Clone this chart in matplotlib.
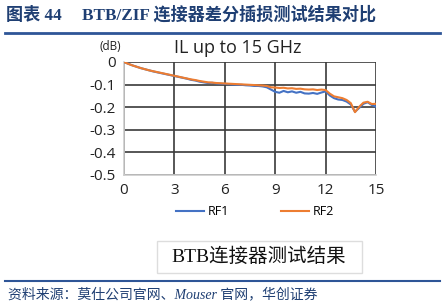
import matplotlib
matplotlib.use("Agg")
import matplotlib.pyplot as plt
from matplotlib.patches import Rectangle
from matplotlib.lines import Line2D

freq = [0, 0.25, 0.5, 0.75, 1, 1.25, 1.5, 1.75, 2, 2.25, 2.5, 2.75, 3, 3.25, 3.5, 3.75,
        4, 4.25, 4.5, 4.75, 5, 5.25, 5.5, 5.75, 6, 6.25, 6.5, 6.75, 7, 7.25, 7.5, 7.75,
        8, 8.25, 8.5, 8.75, 9, 9.25, 9.5, 9.75, 10, 10.25, 10.5, 10.75, 11, 11.25, 11.5, 11.75,
        12, 12.25, 12.5, 12.75, 13, 13.25, 13.5, 13.75, 14, 14.25, 14.5, 14.75, 15]

rf1 = [0, -0.008, -0.015, -0.021, -0.027, -0.032, -0.037, -0.042, -0.046, -0.050, -0.054, -0.058,
       -0.062, -0.066, -0.070, -0.074, -0.079, -0.082, -0.087, -0.090, -0.093, -0.092, -0.095, -0.096,
       -0.097, -0.098, -0.100, -0.101, -0.101, -0.103, -0.104, -0.106, -0.106, -0.108, -0.112, -0.122,
       -0.132, -0.136, -0.128, -0.134, -0.130, -0.136, -0.132, -0.139, -0.140, -0.137, -0.141, -0.135,
       -0.130, -0.148, -0.160, -0.166, -0.168, -0.175, -0.188, -0.220, -0.203, -0.185, -0.178, -0.190, -0.198]

rf2 = [0, -0.008, -0.015, -0.021, -0.027, -0.032, -0.037, -0.041, -0.045, -0.049, -0.053, -0.057,
       -0.061, -0.065, -0.069, -0.073, -0.077, -0.080, -0.084, -0.087, -0.090, -0.091, -0.093, -0.094,
       -0.095, -0.096, -0.097, -0.098, -0.099, -0.100, -0.101, -0.102, -0.103, -0.104, -0.106, -0.112,
       -0.113, -0.115, -0.114, -0.117, -0.116, -0.119, -0.118, -0.121, -0.122, -0.121, -0.124, -0.122,
       -0.124, -0.140, -0.152, -0.156, -0.160, -0.168, -0.182, -0.222, -0.198, -0.180, -0.176, -0.186, -0.185]

series_names = ["RF1", "RF2"]
xticks = [0, 3, 6, 9, 12, 15]
yticks = [0, -0.1, -0.2, -0.3, -0.4, -0.5]
ytick_labels = ["0", "-0.1", "-0.2", "-0.3", "-0.4", "-0.5"]

header_left = "图表 44"
header_right = "BTB/ZIF 连接器差分插损测试结果对比"
box_text = "BTB连接器测试结果"
source = "资料来源：莫仕公司官网、Mouser 官网，华创证券"

W, H = 444, 306
fig = plt.figure(figsize=(W / 100, H / 100), dpi=100)
fig.patch.set_facecolor("white")

def fx(px):
    return px / W

def fy(py):
    return 1 - py / H

navy = "#1F3F73"
serif_cjk = ["Liberation Serif", "Noto Sans CJK SC"]

# header
fig.text(fx(6), fy(15), header_left, fontsize=12.3, fontweight="bold", color=navy,
         family=serif_cjk, va="center", ha="left")
fig.text(fx(82), fy(15), header_right, fontsize=12.3, fontweight="bold", color=navy,
         family=serif_cjk, va="center", ha="left")
fig.add_artist(Line2D([fx(5), fx(440)], [fy(33), fy(33)], color="#2E5597", lw=2.0))

# axes
ax = fig.add_axes([fx(124), fy(175), fx(376) - fx(124), fy(62) - fy(175)])
c1 = "#4472C4"
c2 = "#ED7D31"
ax.plot(freq, rf1, color=c1, lw=1.5, label=series_names[0], zorder=3)
ax.plot(freq, rf2, color=c2, lw=1.5, label=series_names[1], zorder=4)
ax.set_xlim(0, 15)
ax.set_ylim(-0.5, 0)
ax.set_xticks(xticks)
ax.set_yticks(yticks)
ax.set_yticklabels(ytick_labels)
ax.tick_params(length=0, labelsize=11, labelcolor="#222222", pad=6)
for lab in ax.get_xticklabels() + ax.get_yticklabels():
    lab.set_family("Open Sans")
ax.grid(True, color="#3a3a3a", lw=1.2, zorder=1)
ax.set_axisbelow(True)
for s in ["top", "right"]:
    ax.spines[s].set_visible(False)
for s in ["left", "bottom"]:
    ax.spines[s].set_color("#cccccc")
    ax.spines[s].set_linewidth(1.2)

fig.text(fx(238), fy(48), "IL up to 15 GHz", fontsize=13, family="Open Sans",
         color="#222222", ha="center", va="center")
fig.text(fx(110), fy(46), "(dB)", fontsize=8.5, family="Open Sans",
         color="#222222", ha="center", va="center")

leg = ax.legend(loc="upper center", bbox_to_anchor=(0.52, -0.17), ncol=2, frameon=False,
                handlelength=2.2, columnspacing=4.2, handletextpad=0.3,
                prop={"family": "Open Sans", "size": 9})

# box
fig.add_artist(Rectangle((fx(157), fy(273)), fx(362) - fx(157), fy(241) - fy(273),
                         fill=False, edgecolor="#dddddd", lw=1.0))
fig.text(fx(259), fy(257), box_text, fontsize=14, family=serif_cjk,
         color="#111111", ha="center", va="center")

fig.add_artist(Line2D([fx(5), fx(440)], [fy(281), fy(281)], color="#2E5597", lw=1.5))
fig.text(fx(8), fy(294), source, fontsize=10, style="italic", family=serif_cjk,
         color=navy, ha="left", va="center")

fig.savefig("out.png", dpi=100, facecolor="white")
